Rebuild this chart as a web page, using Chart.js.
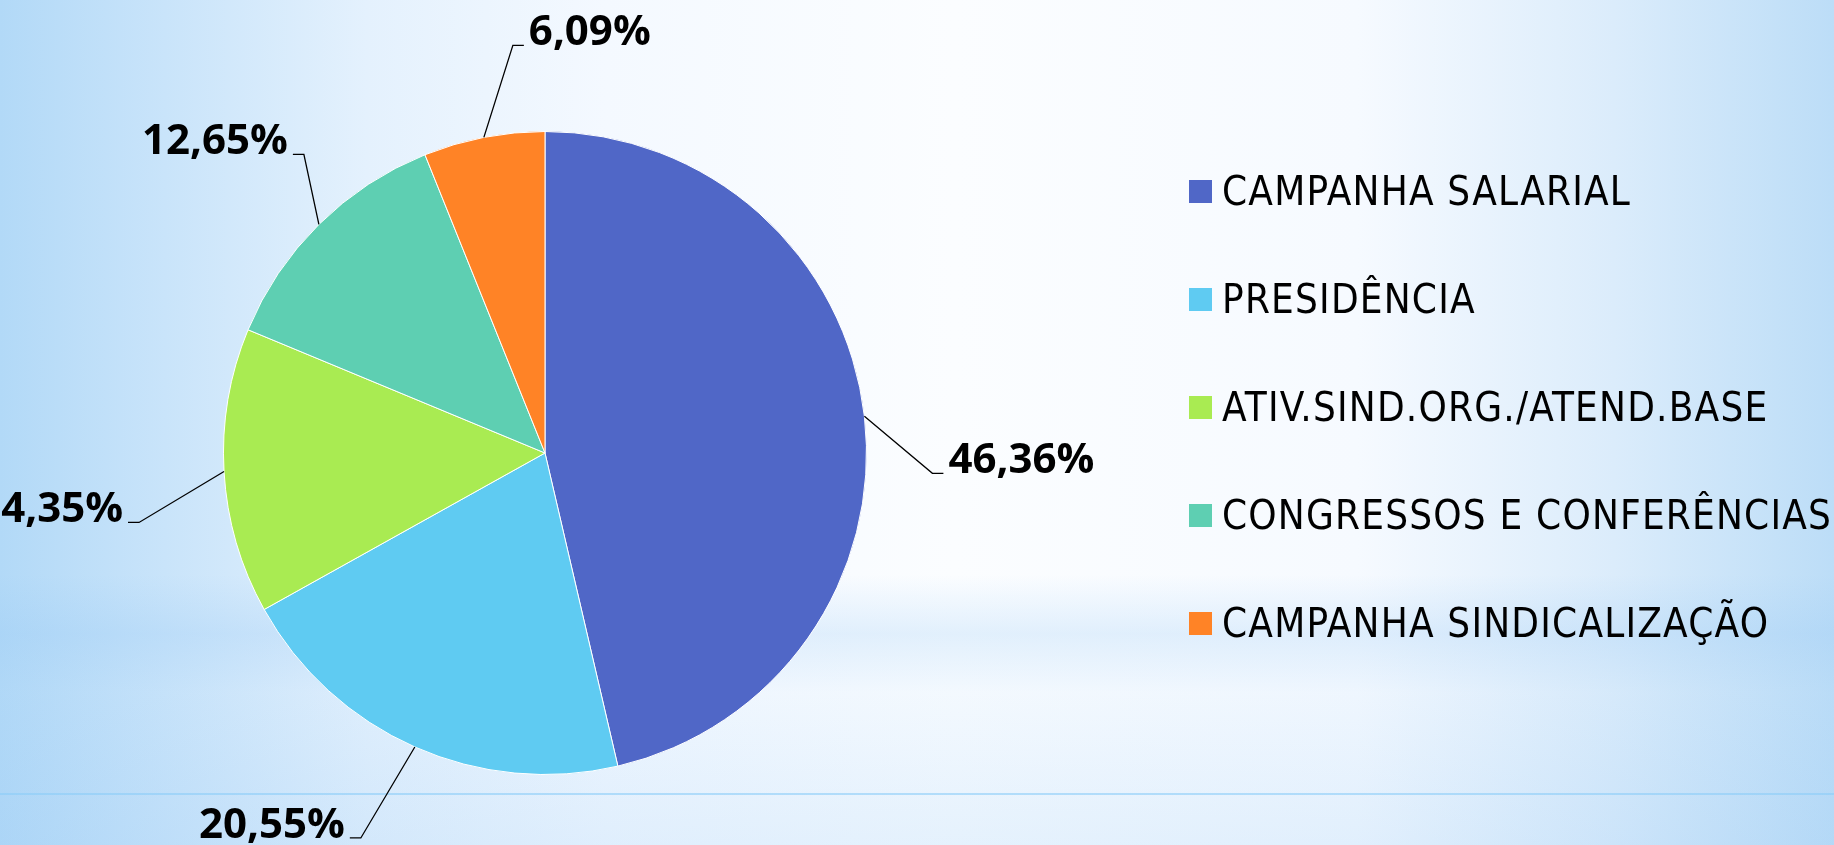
<!DOCTYPE html>
<html>
<head>
<meta charset="utf-8">
<title>Despesas</title>
<script src="https://cdn.jsdelivr.net/npm/chart.js@4.4.1/dist/chart.umd.min.js"></script>
<style>
  html, body { margin: 0; padding: 0; width: 1834px; height: 845px; overflow: hidden; }
  body {
    background:
      linear-gradient(180deg, rgba(0,0,0,0) 793px, rgba(140,205,248,0.6) 793px, rgba(140,205,248,0.6) 795px, rgba(0,0,0,0) 795px),
      linear-gradient(180deg, rgba(150,200,245,0) 0%, rgba(150,200,245,0) 68%, rgba(150,200,245,0.25) 75%, rgba(150,200,245,0.08) 82%, rgba(150,200,245,0.22) 100%),
      linear-gradient(90deg, #b2d9f7 0%, #c9e4fa 9%, #e4f1fd 20%, #f4f9ff 33%, #fbfdff 52%, #f6faff 74%, #dbecfb 88%, #bcddf7 100%);
  }
  #wrap { position: relative; width: 1834px; height: 845px; }
</style>
</head>
<body>
<div id="wrap"><canvas id="pizza"></canvas></div>
<script>
// dados
var categorias = ['CAMPANHA SALARIAL', 'PRESIDÊNCIA', 'ATIV.SIND.ORG./ATEND.BASE', 'CONGRESSOS E CONFERÊNCIAS', 'CAMPANHA SINDICALIZAÇÃO'];
var percentuais = [46.36, 20.55, 14.35, 12.65, 6.09];
var cores = ['#5067c7', '#5fcbf2', '#a9eb52', '#5ecfb2', '#ff8326'];

// onde fica o cotovelo da linha guia, a partir da borda da fatia
var guias = [
  { dx: 68, dy: 57, lado: 1 },
  { dx: -54, dy: 91, lado: -1 },
  { dx: -85, dy: 51, lado: -1 },
  { dx: -15, dy: -70, lado: -1 },
  { dx: 29, dy: -92, lado: 1 }
];

function fmt(v) {
  return v.toFixed(2).replace('.', ',') + '%';
}

var rotulos = {
  id: 'rotulos',
  afterDatasetsDraw: function(chart) {
    var ctx = chart.ctx;
    var meta = chart.getDatasetMeta(0);
    ctx.save();
    meta.data.forEach(function(arc, i) {
      var p = arc.getProps(['x', 'y', 'startAngle', 'endAngle', 'outerRadius'], true);
      var mid = (p.startAngle + p.endAngle) / 2;
      var px = p.x + Math.cos(mid) * p.outerRadius;
      var py = p.y + Math.sin(mid) * p.outerRadius;
      var g = guias[i];
      var ex = px + g.dx, ey = py + g.dy;
      var tx = ex + g.lado * 11;
      ctx.strokeStyle = '#000';
      ctx.lineWidth = 1.3;
      ctx.beginPath();
      ctx.moveTo(px, py);
      ctx.lineTo(ex, ey);
      ctx.lineTo(tx, ey);
      ctx.stroke();
      ctx.fillStyle = '#000';
      ctx.font = 'bold 42px "Open Sans", "DejaVu Sans Condensed", sans-serif';
      ctx.textBaseline = 'alphabetic';
      ctx.textAlign = g.lado > 0 ? 'left' : 'right';
      ctx.fillText(fmt(chart.data.datasets[0].data[i]), tx + g.lado * 5, ey);
    });
    ctx.restore();
  }
};

var legenda = {
  id: 'legenda',
  afterDraw: function(chart) {
    var ctx = chart.ctx;
    ctx.save();
    ctx.font = '40px "DejaVu Sans Condensed", sans-serif';
    ctx.letterSpacing = '1.2px';
    ctx.textAlign = 'left';
    ctx.textBaseline = 'alphabetic';
    chart.data.labels.forEach(function(lab, i) {
      var base = 205 + i * 108;
      ctx.fillStyle = chart.data.datasets[0].backgroundColor[i];
      ctx.fillRect(1189, base - 25, 23, 23);
      ctx.fillStyle = '#000';
      ctx.fillText(lab, 1222, base);
    });
    ctx.restore();
  }
};

var ctx = document.getElementById('pizza');
var grafico = new Chart(ctx, {
  type: 'pie',
  data: {
    labels: categorias,
    datasets: [{
      data: percentuais,
      backgroundColor: cores,
      borderColor: '#ffffff',
      borderWidth: 1
    }]
  },
  options: {
    responsive: true,
    maintainAspectRatio: false,
    animation: false,
    layout: { padding: { left: 0, right: 744, top: 131, bottom: 70 } },
    plugins: {
      legend: { display: false },
      tooltip: { enabled: false }
    }
  },
  plugins: [rotulos, legenda]
});
</script>
</body>
</html>
